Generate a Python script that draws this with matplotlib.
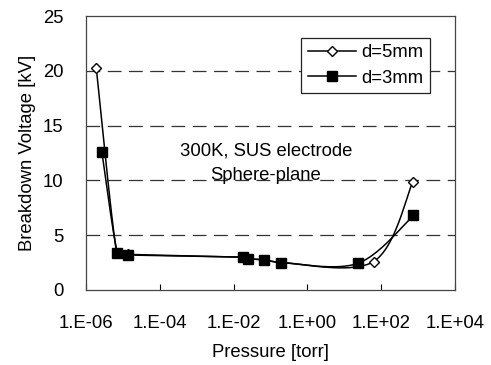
import numpy as np
import matplotlib
matplotlib.use("Agg")
import matplotlib.pyplot as plt

plt.rcParams['font.family'] = ['Liberation Sans', 'DejaVu Sans']

# Breakdown voltage vs. pressure, sphere-plane SUS electrode at 300 K
p_5mm = [1.9e-6, 6.8e-6, 1.4e-5, 1.75e-2, 2.5e-2, 6.5e-2, 0.195, 62.0, 720.0]
v_5mm = [20.3, 3.4, 3.25, 3.0, 2.85, 2.75, 2.5, 2.6, 9.9]

p_3mm = [2.7e-6, 7.1e-6, 1.4e-5, 1.75e-2, 2.5e-2, 6.5e-2, 0.195, 23.0, 740.0]
v_3mm = [12.6, 3.4, 3.2, 3.0, 2.85, 2.75, 2.5, 2.43, 6.8]

x_ticks = [1e-6, 1e-4, 1e-2, 1e0, 1e2, 1e4]
x_tick_labels = ['1.E-06', '1.E-04', '1.E-02', '1.E+00', '1.E+02', '1.E+04']
y_ticks = [0, 5, 10, 15, 20, 25]


def smooth(px, py, xscale=36.85, yscale=11.0, n=40, cap=0.35):
    """Bezier smoothing (spreadsheet style) computed in log-x display units,
    with control handles capped relative to the segment length."""
    u = np.log10(px) * xscale
    v = np.asarray(py, float) * yscale
    P = np.column_stack([u, v])
    m = len(P)
    out = [P[0]]
    t = np.linspace(0, 1, n)[1:, None]
    for i in range(m - 1):
        p0 = P[i - 1] if i > 0 else P[i]
        p1, p2 = P[i], P[i + 1]
        p3 = P[i + 2] if i + 2 < m else P[i + 1]
        seg_len = np.hypot(*(p2 - p1))
        d1 = (p2 - p0) / 6.0
        d2 = (p3 - p1) / 6.0
        for d in (d1, d2):
            L = np.hypot(*d)
            if L > cap * seg_len and L > 0:
                d *= cap * seg_len / L
        c1 = p1 + d1
        c2 = p2 - d2
        seg = ((1 - t) ** 3) * p1 + 3 * ((1 - t) ** 2) * t * c1 + 3 * (1 - t) * t ** 2 * c2 + t ** 3 * p2
        out.extend(seg)
    out = np.array(out)
    return 10 ** (out[:, 0] / xscale), out[:, 1] / yscale


fig = plt.figure(figsize=(4.91, 3.65), dpi=100)
ax = fig.add_axes([0.175, 0.2055, 0.752, 0.7505])

ax.set_xscale('log')
ax.set_xlim(1e-6, 1e4)
ax.set_ylim(0, 25)

for yv in [5, 10, 15, 20]:
    ax.axhline(yv, color='#333333', lw=0.9, dashes=(11, 6), zorder=1)

sx, sy = smooth(p_5mm, v_5mm)
ax.plot(sx, sy, color='black', lw=1.1, zorder=2)
ax.plot(p_5mm, v_5mm, ls='none', marker='D', ms=5, mfc='white', mec='black', mew=1.0, zorder=3)

sx, sy = smooth(p_3mm, v_3mm)
ax.plot(sx, sy, color='black', lw=1.1, zorder=4)
ax.plot(p_3mm, v_3mm, ls='none', marker='s', ms=7.5, mfc='black', mec='black', zorder=5)

# legend proxies
h5, = ax.plot([], [], color='black', lw=1.1, marker='D', ms=5, mfc='white', mec='black')
h3, = ax.plot([], [], color='black', lw=1.1, marker='s', ms=7.5, mfc='black', mec='black')
leg = ax.legend([h5, h3], ['d=5mm', 'd=3mm'], loc='upper right',
                bbox_to_anchor=(0.932, 0.92), fancybox=False, framealpha=1,
                edgecolor='#222222', fontsize=13.3, handlelength=2.6,
                handletextpad=0.3, borderpad=0.35, labelspacing=0.45,
                borderaxespad=0)
leg.get_frame().set_linewidth(0.9)
leg.set_zorder(6)

ax.text(0.487, 0.508, '300K, SUS electrode', transform=ax.transAxes,
        ha='center', va='center', fontsize=13.3)
ax.text(0.487, 0.418, 'Sphere-plane', transform=ax.transAxes,
        ha='center', va='center', fontsize=13.3)

ax.set_xticks(x_ticks)
ax.set_xticklabels(x_tick_labels)
ax.xaxis.set_minor_locator(matplotlib.ticker.NullLocator())
ax.set_yticks(y_ticks)
ax.tick_params(axis='x', direction='in', length=4, width=0.8, labelsize=13.3, pad=18)
ax.tick_params(axis='y', length=0, labelsize=13.3, pad=16)

for s in ax.spines.values():
    s.set_color('#444444')
    s.set_linewidth(0.9)

ax.set_xlabel('Pressure [torr]', fontsize=13.3, labelpad=9)
ax.set_ylabel('Breakdown Voltage [kV]', fontsize=13.3, labelpad=5)

fig.savefig('out.png', dpi=100)
